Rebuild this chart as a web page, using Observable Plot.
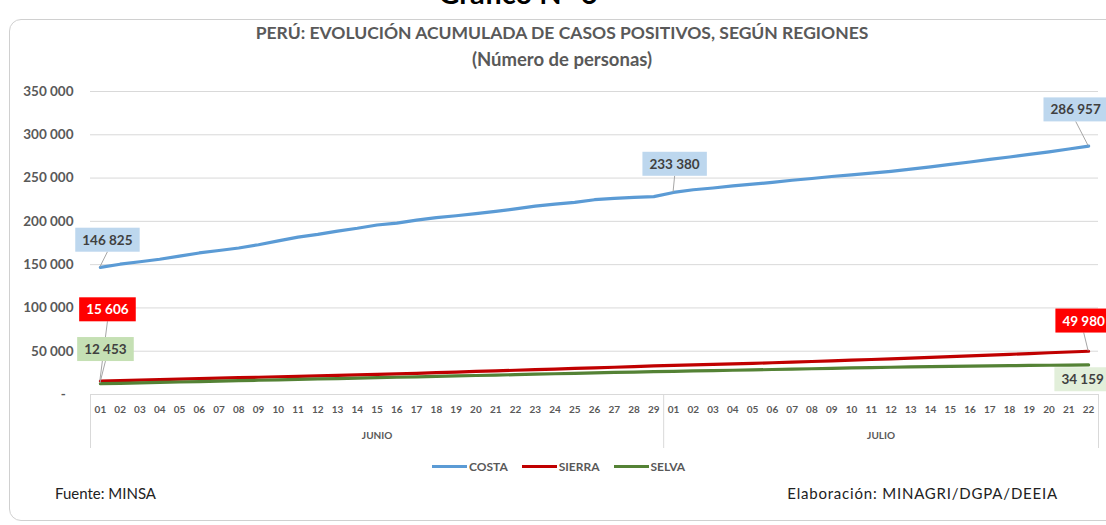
<!DOCTYPE html>
<html><head><meta charset="utf-8">
<script src="https://cdn.jsdelivr.net/npm/d3@7"></script>
<script src="https://cdn.jsdelivr.net/npm/@observablehq/plot@0.6"></script>
<style>
body{margin:0;background:#fff;font-family:Lato,"Open Sans",sans-serif;overflow:hidden}
#wrap{position:relative;width:1106px;height:525px;overflow:hidden;background:#fff}
.frame{position:absolute;left:9px;top:19px;width:1120px;height:502px;border:1px solid #d0d0d0;border-radius:12px;box-sizing:border-box}
.top{position:absolute;top:-22px;left:0;width:1036px;text-align:center;font-weight:bold;font-size:29px;line-height:30px;color:#000}
.title{position:absolute;top:22px;left:0;width:1124px;text-align:center;font-weight:bold;font-size:17.5px;line-height:22px;color:#595959}
.sub{position:absolute;top:48px;left:0;width:1124px;text-align:center;font-weight:bold;font-size:18.5px;line-height:22px;color:#595959}
#chart{position:absolute;left:0;top:0}
.legend{position:absolute;top:459px;left:432px;display:flex;align-items:center;font-weight:bold;font-size:12px;color:#595959}
.legend span.sw{display:inline-block;width:35px;height:3px;margin-right:2px}
.legend span.it{margin-right:14px}
.foot{position:absolute;top:483px;font-size:15px;color:#222;line-height:20px}
</style></head><body>
<div id="wrap">
  <div class="frame"></div>
  <div class="top">Gráfico N° 6</div>
  <div class="title">PERÚ: EVOLUCIÓN ACUMULADA DE CASOS POSITIVOS, SEGÚN REGIONES</div>
  <div class="sub">(Número de personas)</div>
  <div id="chart"></div>
  <div class="legend" id="legend"></div>
  <div class="foot" style="left:55px">Fuente: MINSA</div>
  <div class="foot" style="right:48px;letter-spacing:0.8px">Elaboración: MINAGRI/DGPA/DEEIA</div>
</div>
<script>
// ---- data ----
const diasJunio = ["01","02","03","04","05","06","07","08","09","10","11","12","13","14","15","16","17","18","19","20","21","22","23","24","25","26","27","28","29"];
const diasJulio = ["01","02","03","04","05","06","07","08","09","10","11","12","13","14","15","16","17","18","19","20","21","22"];
const meses = ["JUNIO","JULIO"];
const regiones = ["COSTA","SIERRA","SELVA"];
const costa = [146825,150500,153300,156200,159800,163500,166300,169200,173000,177500,181800,185000,188800,192000,195800,198000,201500,204300,206500,209000,211500,214500,217500,220000,222000,225000,226500,227800,228600,
  233380,236500,238500,241000,243000,245000,247500,249500,251800,253800,255800,257800,260300,263000,265800,268600,271500,274300,277300,280300,283600,286957];
const sierra = [15606,16100,16650,17200,17750,18300,18850,19400,19950,20500,21050,21600,22150,22700,23250,23850,24500,25200,25900,26600,27300,28000,28700,29400,30100,30800,31500,32250,33000,
  33600,34200,34800,35400,36000,36700,37400,38100,38800,39600,40400,41200,42000,42800,43700,44600,45500,46400,47300,48200,49100,49980];
const selva = [12453,12950,13450,13950,14450,14950,15450,15950,16450,16950,17450,17950,18450,18950,19450,19950,20450,20950,21450,21950,22450,22950,23450,23950,24450,24950,25450,25950,26400,
  26800,27200,27600,28000,28400,28850,29300,29750,30200,30650,31100,31500,31900,32200,32500,32800,33100,33350,33600,33800,34000,34159];
const yTicks = [0,50000,100000,150000,200000,250000,300000,350000];

// ---- styles / layout ----
const colores = ["#5b9bd5","#c00000","#548235"];
const series = [costa, sierra, selva];
const dias = [...diasJunio, ...diasJulio];
const rows = [];
series.forEach((s, k) => s.forEach((v, i) => rows.push({i, v, region: regiones[k]})));
const idx = dias.map((_, i) => i);
const sep = [-0.5, diasJunio.length - 0.5, dias.length - 0.5];
const mesPos = [(diasJunio.length - 1) / 2, diasJunio.length + (diasJulio.length - 1) / 2];

const fmt = v => v === 0 ? "-\u2007" : d3.format(",")(v).replace(/,/g, " ");
const fmtL = v => d3.format(",")(v).replace(/,/g, " ");

// annotation placement (pixel offsets)
const anot = [
  {s:0, i:0, dx:7, dy:-27, bg:"#bdd7ee", fg:"#404040", lead:true},
  {s:0, i:diasJunio.length, dx:1, dy:-28, bg:"#bdd7ee", fg:"#404040", lead:true},
  {s:0, i:dias.length-1, dx:-13, dy:-36, bg:"#bdd7ee", fg:"#404040", lead:true},
  {s:1, i:0, dx:7, dy:-71, bg:"#ff0000", fg:"#ffffff", lead:true},
  {s:2, i:0, dx:5, dy:-34, bg:"#c5e0b4", fg:"#404040", lead:true},
  {s:1, i:dias.length-1, dx:-5, dy:-30, bg:"#ff0000", fg:"#ffffff", lead:true},
  {s:2, i:dias.length-1, dx:-6, dy:15, bg:"#e2efda", fg:"#404040", lead:false}
].map(a => ({...a, v: series[a.s][a.i], txt: fmtL(series[a.s][a.i])}));

const plot = Plot.plot({
  width: 1106, height: 525,
  marginTop: 91, marginBottom: 131, marginLeft: 90, marginRight: 8,
  style: {background: "transparent", fontFamily: "Lato, 'Open Sans', sans-serif", overflow: "visible"},
  x: {type: "linear", domain: [-0.5, dias.length - 0.5], axis: null, label: null},
  y: {domain: [0, 350000], axis: null, label: null},
  color: {domain: regiones, range: colores},
  marks: [
    Plot.gridY(yTicks, {stroke: "#d9d9d9", strokeOpacity: 1, strokeWidth: 1}),
    Plot.axisY(yTicks, {label: null, tickSize: 0, tickPadding: 17, tickFormat: fmt, fontSize: 13.5, fontWeight: "bold", fill: "#595959"}),
    Plot.axisX(sep, {label: null, tickSize: 54, tickFormat: () => "", stroke: "#d9d9d9", strokeOpacity: 1}),
    Plot.axisX(idx, {label: null, tickSize: 0, tickPadding: 11, tickFormat: i => dias[i], fontSize: 10, fontWeight: "bold", fill: "#595959"}),
    Plot.axisX(mesPos, {label: null, tickSize: 0, tickPadding: 37, tickFormat: (d, j) => meses[j], fontSize: 10, fontWeight: "bold", fill: "#595959"}),
    Plot.line(rows, {x: "i", y: "v", z: "region", stroke: "region", strokeWidth: 3.2, strokeLinejoin: "round"}),
    ...anot.map(a => Plot.text([a], {x: "i", y: "v", text: "txt", dx: a.dx, dy: a.dy, fill: a.fg, fontSize: 13.5, fontWeight: "bold"}))
  ]
});
const chart = document.getElementById("chart");
chart.appendChild(plot);

// annotation boxes & leader lines
const NS = "http://www.w3.org/2000/svg";
const xs = plot.scale("x"), ys = plot.scale("y");
const texts = Array.from(plot.querySelectorAll("g[aria-label='text'] text"));
const leadG = document.createElementNS(NS, "g");
let firstLabelG = null;
anot.forEach(a => {
  const t = texts.find(el => el.textContent === a.txt);
  if (!t) return;
  const g = t.parentNode;
  if (!firstLabelG) firstLabelG = g.closest("g[aria-label='text']");
  const bb = t.getBBox();
  const padX = 7, h = 24;
  const cy = bb.y + bb.height / 2;
  const rect = document.createElementNS(NS, "rect");
  rect.setAttribute("x", bb.x - padX);
  rect.setAttribute("y", cy - h / 2);
  rect.setAttribute("width", bb.width + 2 * padX);
  rect.setAttribute("height", h);
  rect.setAttribute("fill", a.bg);
  const tr = t.getAttribute("transform");
  if (tr) rect.setAttribute("transform", tr);
  g.insertBefore(rect, t);
  if (a.lead) {
    const m = t.getCTM();
    const bx = m.e + bb.x + bb.width / 2, by = m.f + cy + h / 2;
    const px = xs.apply(a.i), py = ys.apply(a.v);
    const ln = document.createElementNS(NS, "line");
    ln.setAttribute("x1", bx); ln.setAttribute("y1", by);
    ln.setAttribute("x2", px); ln.setAttribute("y2", py);
    ln.setAttribute("stroke", "#a6a6a6"); ln.setAttribute("stroke-width", 1);
    leadG.appendChild(ln);
  }
});
if (firstLabelG) plot.insertBefore(leadG, firstLabelG); else plot.appendChild(leadG);

// legend
const leg = document.getElementById("legend");
regiones.forEach((r, k) => {
  const sw = document.createElement("span"); sw.className = "sw"; sw.style.background = colores[k];
  const it = document.createElement("span"); it.className = "it"; it.textContent = r;
  leg.appendChild(sw); leg.appendChild(it);
});
</script>
</body></html>
